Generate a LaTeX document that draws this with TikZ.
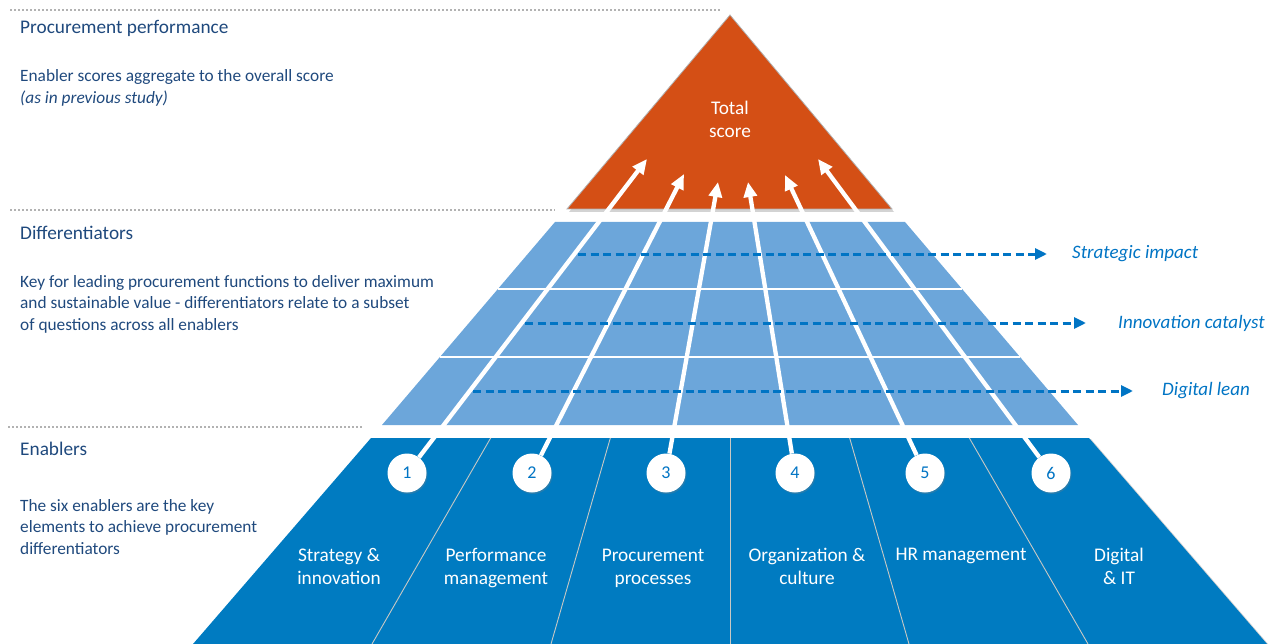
\documentclass[tikz,border=0pt]{standalone}
\usepackage{fontspec}
\setmainfont{Carlito}
\usepackage{tikz}
\usetikzlibrary{arrows.meta, positioning, shadows, calc}

\definecolor{scoreorange}{RGB}{212,79,21}
\definecolor{difflight}{RGB}{108,166,218}
\definecolor{enabdark}{RGB}{0,123,193}
\definecolor{headnavy}{RGB}{31,73,125}
\definecolor{diffblue}{RGB}{0,116,196}
\definecolor{dotgray}{RGB}{178,178,178}
\definecolor{splitgray}{RGB}{200,200,196}

\tikzset{
	sidehead/.style={anchor=west, inner sep=0pt, text=headnavy, font=\fontsize{19.3}{23}\selectfont},
	sidetext/.style={anchor=west, inner sep=0pt, align=left, text=headnavy, font=\fontsize{17.3}{21.5}\selectfont},
	levelrule/.style={dotgray, line width=1.8pt, dash pattern=on 2pt off 2pt},
	enabler/.style={align=center, inner sep=0pt, text=white, font=\fontsize{19.3}{23}\selectfont},
	enumcircle/.style={circle, fill=white, minimum size=39pt, inner sep=0pt, text=diffblue,
		font=\fontsize{18}{18}\selectfont, drop shadow={shadow xshift=1pt, shadow yshift=-1.5pt, opacity=0.3}},
	rollup/.style={white, line width=4.3pt, -{Triangle[length=15pt, width=13pt]}},
	diffarrow/.style={diffblue, line width=3pt, dash pattern=on 8pt off 4.5pt, -{Triangle[length=12pt, width=11pt]}},
	difflabel/.style={anchor=west, inner sep=0pt, text=diffblue, font=\fontsize{19}{23}\selectfont\itshape},
}

\begin{document}
\begin{tikzpicture}[x=1pt, y=-1pt]

\useasboundingbox (0,0) rectangle (1273,644);

% level separators
\draw[levelrule] (10,10) -- (720,10);
\draw[levelrule] (10,210) -- (555,210);
\draw[levelrule] (8,427) -- (362,427);

% texts on the left
\node[sidehead] (perfhead) at (20,28) {Procurement performance};
\node[sidetext] (perftext) at (20,88) {Enabler scores aggregate to the overall score\\\textit{(as in previous study)}};
\node[sidehead] (diffhead) at (20,233) {Differentiators};
\node[sidetext] (difftext) at (20,304) {Key for leading procurement functions to deliver maximum\\and sustainable value - differentiators relate to a subset\\of questions across all enablers};
\node[sidehead] (enabhead) at (20,449) {Enablers};
\node[sidetext] (enabtext) at (20,527) {The six enablers are the key\\elements to achieve procurement\\differentiators};

% total score
\path[fill=scoreorange, draw=gray!60, line width=0.8pt,
	drop shadow={shadow xshift=2pt, shadow yshift=-3pt, opacity=0.35}] (730,15) -- (892,209) -- (567,209) -- cycle;
\node[enabler] (total) at (730,119) {Total\\score};

% differentiator grid
\coordinate (dtl) at (555,222);
\coordinate (dtr) at (905,222);
\coordinate (dbr) at (1078,425);
\coordinate (dbl) at (382,425);
\fill[difflight] (dtl) -- (dtr) -- (dbr) -- (dbl) -- cycle;
\foreach \t in {0.330, 0.665} {
	\draw[white, line width=2pt] ($(dtl)!\t!(dbl)$) -- ($(dtr)!\t!(dbr)$); % row split
}

% enabler base
\coordinate (etl) at (371,438);
\coordinate (etr) at (1089,438);
\coordinate (ebr) at (1267,644);
\coordinate (ebl) at (193,644);
\path[fill=enabdark, drop shadow={shadow xshift=2pt, shadow yshift=-1pt, opacity=0.35}] (etl) -- (etr) -- (ebr) -- (ebl) -- cycle;
\foreach \i in {1, 2, 3, 4, 5} {
	\draw[splitgray, line width=0.9pt] ($(etl)!\i/6!(etr)$) -- ($(ebl)!\i/6!(ebr)$); % enabler split
}

\node[enabler] (strat) at (339,566) {Strategy \&\\innovation};
\node[enabler] (perf)  at (496,568) {Performance\\management};
\node[enabler] (proc)  at (653,568) {Procurement\\processes};
\node[enabler] (org)   at (807,566) {Organization \&\\culture};
\node[enabler] (hr)    at (961,556) {HR management};
\node[enabler] (dig)   at (1119,566) {Digital\\\& IT};

% numbered enablers rolling up into the total score
\foreach \i/\x in {1/407, 2/532, 3/666, 4/795, 5/925, 6/1051} {
	\node[enumcircle] (e\i) at (\x,473) {\i};
}
\foreach \i/\x/\y in {1/647/159, 2/684/174, 3/718/182, 4/748/182, 5/785/175, 6/818/159} {
	\coordinate (h\i) at (\x,\y);
	\draw[rollup] (e\i) -- (h\i);
}

% differentiators across all enablers
\node[difflabel] (impact) at (1072,254) {Strategic impact};
\node[difflabel] (catal)  at (1118,323) {Innovation catalyst};
\node[difflabel] (lean)   at (1162,391) {Digital lean};
\coordinate (d1) at (578,254);
\coordinate (d2) at (525,323);
\coordinate (d3) at (473,391);
\draw[diffarrow, shorten >=25pt] (d1) -- (impact.west);
\draw[diffarrow, shorten >=32pt] (d2) -- (catal.west);
\draw[diffarrow, shorten >=29pt] (d3) -- (lean.west);

\end{tikzpicture}
\end{document}
